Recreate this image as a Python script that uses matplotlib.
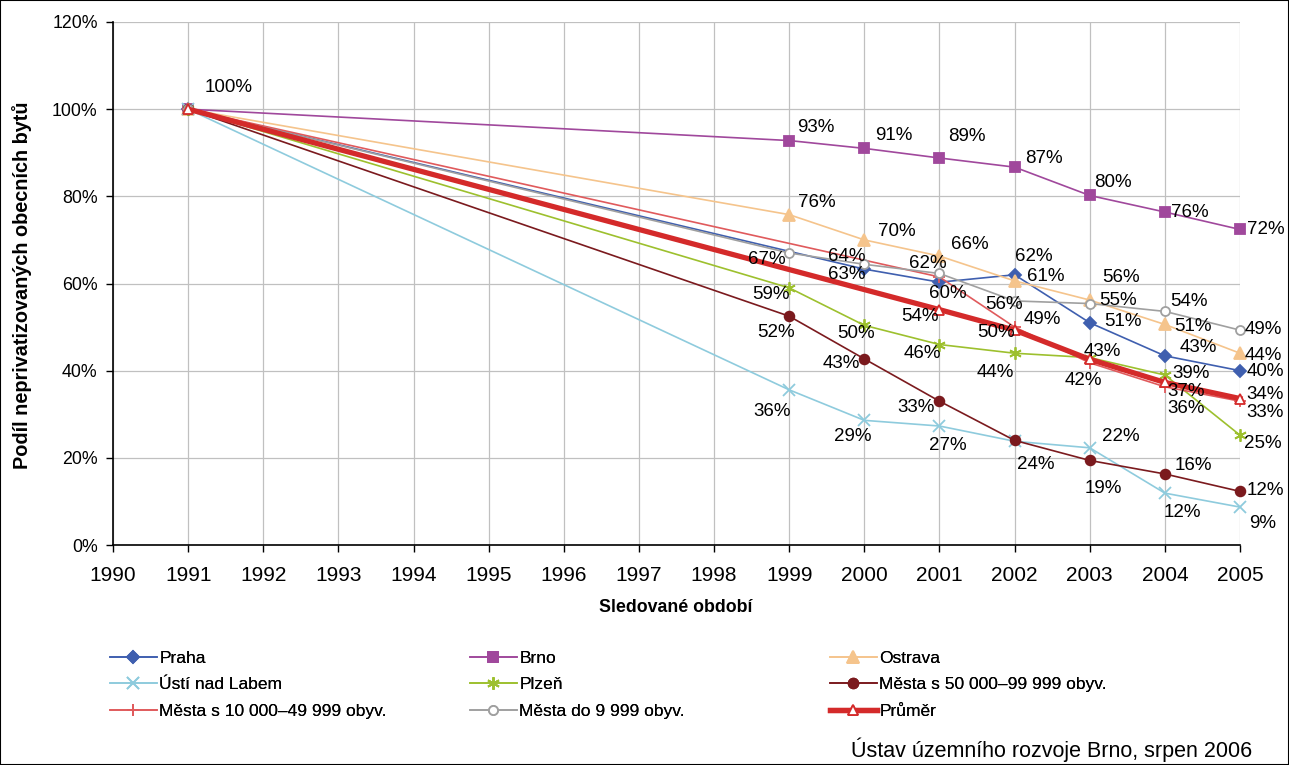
import matplotlib.pyplot as plt
from matplotlib.patches import Rectangle

plt.rcParams['font.family'] = ['Liberation Sans', 'DejaVu Sans']

# roky sledovani (1992-1998 chybi)
years = [1991, 1999, 2000, 2001, 2002, 2003, 2004, 2005]

praha = [100, None, 63.3, 60.3, 62.0, 51.0, 43.4, 40.0]
brno = [100, 92.8, 91.0, 88.8, 86.7, 80.2, 76.4, 72.4]
ostrava = [100, 75.8, 70.0, 66.3, 60.6, 56.2, 50.6, 44.0]
usti = [100, 35.6, 28.6, 27.3, 23.8, 22.3, 11.9, 8.7]
plzen = [100, 59.0, 50.4, 46.0, 44.0, 43.0, 39.0, 25.2]
mesta_50 = [100, 52.5, 42.7, 33.0, 24.0, 19.4, 16.3, 12.3]
mesta_10 = [100, None, None, 61.5, 50.0, 41.8, 36.3, 33.0]
mesta_9 = [100, 67.0, 64.4, 62.3, 56.0, 55.4, 53.6, 49.3]
prumer = [100, None, None, 54.0, 49.3, 42.6, 37.3, 33.6]

names = ["Praha", "Brno", "Ostrava", "Ústí nad Labem", "Plzeň",
         "Města s 50 000–99 999 obyv.", "Města s 10 000–49 999 obyv.",
         "Města do 9 999 obyv.", "Průměr"]
values = [praha, brno, ostrava, usti, plzen, mesta_50, mesta_10, mesta_9, prumer]

# barva, znacka, velikost znacky, vypln znacky, tloustka cary
styles = [
    ('#3F5FAF', 'D', 6.5, '#3F5FAF', 1.2),
    ('#A0489C', 's', 6.5, '#A0489C', 1.2),
    ('#F5C48C', '^', 8, '#F5C48C', 1.2),
    ('#8ECBDD', 'x', 8, '#8ECBDD', 1.2),
    ('#9DC02E', (6, 2, 0), 9, '#9DC02E', 1.2),
    ('#7B1A1E', 'o', 7, '#7B1A1E', 1.2),
    ('#E05A5C', '+', 9, '#E05A5C', 1.2),
    ('#A0A0A0', 'o', 6.5, 'white', 1.2),
    ('#D42A2A', '^', 7.5, 'white', 3.8),
]

# posun popisku od bodu v pixelech (dx, dy dolu), None = bez popisku
label_pos = [
    [None, None, (-18, 5), (8, 11), (19, -18), (33, -1), (33, -8), (25, 1)],
    [None, (27, -13), (29, -13), (27, -21), (29, -9), (23, -13), (25, 0), (26, 0)],
    [None, (28, -12), (32, -8), (30, -12), (31, -4), (31, -23), (28, 2), (23, 2)],
    [None, (-17, 22), (-12, 16), (8, 19), None, (31, -11), (18, 19), (23, 16)],
    [None, (-18, 7), (-8, 8), (-17, 9), (-19, 19), None, (26, -2), (23, 8)],
    [None, (-13, 16), (-23, 5), (-23, 6), (21, 24), (14, 28), (29, -8), (25, -1)],
    [None, None, None, None, (-19, 5), (-6, 18), (21, 22), (25, 11)],
    [None, (-22, 7), (-18, -8), (-12, -10), (-11, 4), (28, -3), (24, -10), (23, -1)],
    [(40, -22), None, None, (-20, 7), (28, -11), (13, -8), (21, 9), (25, -4)],
]

fig = plt.figure(figsize=(12.89, 7.65), dpi=100)
ax = fig.add_axes([113 / 1289, 1 - 545 / 765, 1127 / 1289, 523 / 765])

handles = []
for name, vals, st, pos in zip(names, values, styles, label_pos):
    color, marker, ms, mfc, lw = st
    xs = [yr for yr, v in zip(years, vals) if v is not None]
    ys = [v for v in vals if v is not None]
    line, = ax.plot(xs, ys, color=color, lw=lw, marker=marker, markersize=ms,
                    markerfacecolor=mfc, markeredgecolor=color,
                    markeredgewidth=1.3, label=name, clip_on=False, zorder=3)
    handles.append(line)
    for yr, v, p in zip(years, vals, pos):
        if v is None or p is None:
            continue
        ax.annotate(f"{round(v)}%", (yr, v), xytext=(p[0] * 0.72, -p[1] * 0.72),
                    textcoords='offset points', ha='center', va='center',
                    fontsize=13.5, zorder=5)

ax.set_xlim(1990, 2005)
ax.set_ylim(0, 120)
ax.set_xticks(range(1990, 2006))
ax.set_yticks(range(0, 121, 20))
ax.set_yticklabels([f"{t}%" for t in range(0, 121, 20)])
ax.grid(True, color='#C0C0C0', lw=0.9)
ax.set_axisbelow(True)
for s in ['top', 'right']:
    ax.spines[s].set_visible(False)
for s in ['left', 'bottom']:
    ax.spines[s].set_color('black')
    ax.spines[s].set_linewidth(1.2)
ax.tick_params(axis='x', direction='out', length=5, width=1, pad=10, labelsize=15)
ax.tick_params(axis='y', direction='out', length=5, width=1, pad=6, labelsize=12.8)

fig.text(22 / 1289, 1 - 285 / 765, "Podíl neprivatizovaných obecních bytů",
         rotation=90, ha='center', va='center', fontsize=14.3, fontweight='bold')
fig.text(676 / 1289, 1 - 607 / 765, "Sledované období",
         ha='center', va='center', fontsize=12.8, fontweight='bold')

# legenda ve trech sloupcich, radky jdou zleva doprava
for col, x0 in enumerate([110, 470, 830]):
    hs = handles[col::3]
    leg = fig.legend(hs, [h.get_label() for h in hs], loc='upper left',
                     bbox_to_anchor=(x0 / 1289, 1 - 651 / 765), frameon=False,
                     borderpad=0, borderaxespad=0, handlelength=2.7,
                     handletextpad=0.15, labelspacing=0.64, fontsize=12.5)
    fig.add_artist(leg)

fig.text(1252 / 1289, 1 - 750 / 765, "Ústav územního rozvoje Brno, srpen 2006",
         ha='right', va='center', fontsize=15.5)

fig.patches.append(Rectangle((0, 0), 1, 1, transform=fig.transFigure,
                             fill=False, ec='black', lw=1.5))

fig.savefig('out.png', dpi=100)
